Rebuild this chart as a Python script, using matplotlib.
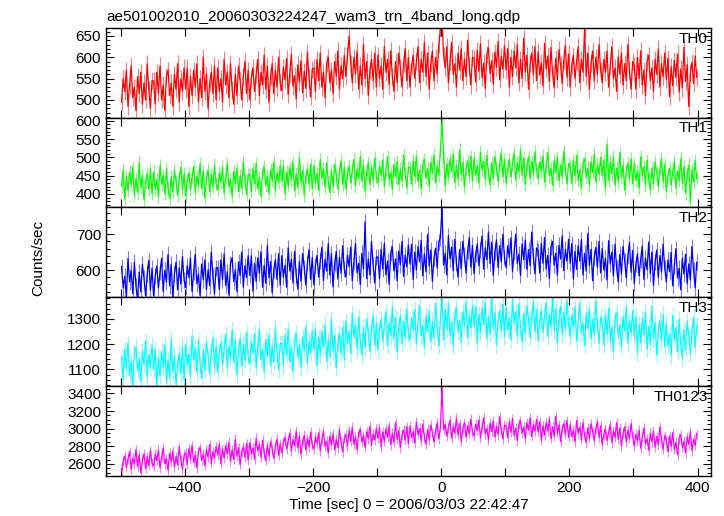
import numpy as np
import matplotlib.pyplot as plt
from matplotlib.ticker import MultipleLocator

plt.rcParams['font.family'] = ['Liberation Sans', 'DejaVu Sans']

# light curves, 2.5 s bins starting at -500 s
t_start = -500.0
t_bin = 2.5

th0 = [495, 550, 520, 570, 485, 535, 580, 505, 530, 475, 555, 515, 565, 490, 540, 500, 585, 525, 480, 545,
       545, 490, 565, 515, 580, 500, 535, 475, 555, 570, 510, 540, 485, 560, 525, 585, 495, 550, 520, 575,
       525, 575, 485, 555, 510, 570, 530, 585, 495, 550, 505, 600, 520, 560, 480, 540, 565, 515, 580, 500,
       575, 520, 550, 495, 595, 535, 565, 505, 585, 525, 490, 560, 510, 580, 545, 500, 555, 590, 515, 570,
       500, 550, 575, 520, 560, 595, 510, 565, 535, 605, 525, 580, 495, 555, 585, 515, 570, 530, 600, 540,
       522, 577, 547, 597, 512, 562, 607, 532, 557, 502, 582, 542, 592, 517, 567, 527, 612, 552, 507, 572,
       575, 520, 595, 545, 610, 530, 565, 505, 585, 600, 540, 570, 515, 590, 555, 615, 525, 580, 550, 605,
       555, 605, 650, 585, 540, 600, 560, 615, 525, 580, 535, 630, 550, 590, 510, 570, 595, 545, 610, 530,
       605, 550, 580, 525, 625, 565, 595, 535, 615, 555, 520, 590, 540, 610, 575, 530, 585, 620, 545, 600,
       530, 580, 605, 550, 590, 625, 540, 595, 565, 635, 555, 610, 525, 585, 615, 545, 600, 560, 630, 668,
       690, 605, 575, 625, 540, 590, 635, 560, 585, 530, 610, 570, 620, 545, 595, 555, 640, 580, 535, 600,
       597, 542, 617, 567, 632, 552, 587, 527, 607, 622, 562, 592, 537, 612, 577, 637, 547, 602, 572, 627,
       570, 620, 530, 600, 555, 615, 575, 630, 540, 595, 550, 645, 565, 605, 525, 585, 610, 560, 625, 545,
       613, 558, 588, 533, 633, 573, 603, 543, 623, 563, 528, 598, 548, 618, 583, 538, 593, 628, 553, 608,
       530, 580, 605, 550, 590, 625, 540, 595, 565, 668, 555, 610, 525, 585, 615, 545, 600, 560, 630, 570,
       540, 595, 565, 615, 530, 580, 625, 550, 575, 520, 600, 560, 610, 535, 585, 545, 630, 570, 525, 590,
       580, 525, 600, 550, 615, 535, 570, 510, 590, 605, 545, 575, 520, 595, 560, 620, 530, 585, 555, 610,
       548, 598, 508, 578, 533, 593, 553, 608, 518, 573, 528, 623, 543, 583, 485, 563, 588, 538, 603, 553]

th1 = [421, 464, 387, 447, 409, 460, 426, 473, 396, 443, 404, 485, 417, 451, 383, 434, 456, 413, 468, 400,
       460, 413, 439, 392, 477, 426, 451, 400, 468, 417, 387, 447, 404, 464, 434, 396, 443, 473, 409, 456,
       394, 436, 458, 411, 445, 475, 402, 449, 423, 483, 415, 462, 389, 441, 466, 406, 453, 419, 479, 428,
       411, 457, 432, 474, 402, 445, 483, 419, 440, 393, 462, 427, 470, 406, 449, 415, 487, 436, 398, 453,
       453, 406, 470, 427, 483, 414, 444, 393, 461, 474, 423, 449, 402, 466, 436, 487, 410, 457, 431, 478,
       434, 477, 400, 460, 422, 473, 439, 486, 409, 456, 417, 498, 430, 464, 396, 447, 469, 426, 481, 413,
       477, 430, 456, 409, 494, 443, 468, 417, 485, 434, 404, 464, 421, 481, 451, 413, 460, 490, 426, 473,
       413, 455, 477, 430, 464, 494, 421, 468, 442, 502, 434, 481, 408, 460, 485, 425, 472, 438, 498, 447,
       430, 476, 451, 493, 421, 464, 502, 438, 459, 412, 481, 446, 489, 425, 468, 434, 506, 455, 417, 472,
       473, 426, 490, 447, 503, 434, 464, 413, 481, 494, 443, 469, 422, 486, 456, 507, 430, 477, 451, 520,
       600, 499, 422, 482, 444, 495, 461, 508, 431, 478, 439, 520, 452, 486, 418, 469, 491, 448, 503, 435,
       498, 451, 477, 430, 515, 464, 489, 438, 506, 455, 425, 485, 442, 502, 472, 434, 481, 511, 447, 494,
       430, 472, 494, 447, 481, 511, 438, 485, 459, 519, 451, 498, 425, 477, 502, 442, 489, 455, 515, 464,
       441, 487, 462, 504, 432, 475, 513, 449, 470, 423, 492, 457, 500, 436, 479, 445, 517, 466, 428, 483,
       475, 428, 492, 449, 505, 436, 466, 415, 483, 496, 445, 471, 424, 488, 458, 509, 432, 479, 453, 500,
       449, 492, 415, 535, 437, 488, 454, 501, 424, 471, 432, 513, 445, 479, 411, 462, 484, 441, 496, 428,
       484, 437, 463, 416, 501, 450, 475, 424, 492, 441, 411, 471, 428, 488, 458, 420, 467, 497, 433, 480,
       407, 449, 471, 424, 458, 488, 415, 462, 436, 496, 428, 475, 402, 454, 479, 375, 466, 432, 492, 441]

th2 = [610, 550, 583, 522, 632, 567, 600, 534, 622, 555, 517, 594, 539, 616, 577, 528, 589, 627, 544, 605,
       528, 583, 611, 550, 595, 633, 540, 600, 567, 644, 556, 616, 523, 589, 622, 545, 606, 561, 638, 573,
       551, 612, 579, 634, 540, 595, 644, 562, 589, 529, 617, 573, 628, 546, 601, 556, 650, 584, 534, 606,
       607, 546, 628, 573, 645, 557, 595, 530, 618, 634, 568, 601, 540, 623, 585, 650, 552, 612, 579, 640,
       585, 640, 541, 618, 568, 634, 591, 651, 552, 613, 563, 668, 579, 624, 536, 601, 629, 574, 646, 558,
       640, 580, 613, 552, 662, 597, 630, 564, 652, 585, 547, 624, 569, 646, 607, 558, 619, 657, 574, 635,
       558, 613, 641, 580, 625, 663, 570, 630, 597, 674, 586, 646, 553, 619, 652, 575, 636, 591, 668, 603,
       581, 642, 609, 664, 570, 625, 674, 592, 619, 559, 647, 603, 735, 576, 631, 586, 680, 614, 564, 636,
       637, 576, 658, 603, 675, 587, 625, 560, 648, 664, 598, 631, 570, 653, 615, 680, 582, 642, 609, 670,
       617, 672, 573, 650, 600, 666, 623, 683, 584, 645, 595, 700, 611, 656, 568, 633, 661, 606, 678, 690,
       775, 614, 647, 586, 696, 631, 664, 598, 686, 619, 581, 658, 603, 680, 641, 592, 653, 691, 608, 669,
       590, 645, 673, 612, 657, 695, 602, 662, 629, 706, 618, 678, 585, 651, 684, 607, 668, 623, 700, 635,
       607, 668, 635, 690, 596, 651, 700, 618, 645, 585, 673, 629, 684, 602, 657, 612, 706, 640, 590, 662,
       653, 592, 674, 619, 691, 603, 641, 576, 664, 680, 614, 647, 586, 669, 631, 696, 598, 658, 625, 686,
       619, 674, 575, 652, 602, 668, 625, 685, 586, 647, 597, 702, 613, 658, 570, 635, 663, 608, 680, 592,
       660, 600, 633, 572, 682, 617, 650, 584, 672, 605, 567, 644, 589, 666, 627, 578, 639, 677, 594, 655,
       562, 617, 645, 584, 629, 667, 574, 634, 601, 678, 590, 650, 557, 623, 656, 579, 640, 595, 672, 607,
       567, 628, 595, 650, 556, 611, 660, 578, 605, 545, 633, 589, 644, 562, 617, 572, 666, 600, 550, 622]

th3 = [1149, 1061, 1181, 1101, 1205, 1077, 1133, 1037, 1165, 1189, 1093, 1141, 1053, 1173, 1117, 1213, 1069, 1157, 1109, 1197,
       1099, 1179, 1035, 1147, 1075, 1171, 1107, 1195, 1051, 1139, 1067, 1219, 1091, 1155, 1040, 1123, 1163, 1083, 1187, 1059,
       1201, 1113, 1161, 1073, 1233, 1137, 1185, 1089, 1217, 1121, 1065, 1177, 1097, 1209, 1153, 1081, 1169, 1225, 1105, 1193,
       1088, 1168, 1208, 1120, 1184, 1240, 1104, 1192, 1144, 1256, 1128, 1216, 1080, 1176, 1224, 1112, 1200, 1136, 1248, 1152,
       1122, 1210, 1162, 1242, 1106, 1186, 1258, 1138, 1178, 1090, 1218, 1154, 1234, 1114, 1194, 1130, 1266, 1170, 1098, 1202,
       1204, 1116, 1236, 1156, 1260, 1132, 1188, 1092, 1220, 1244, 1148, 1196, 1108, 1228, 1172, 1268, 1124, 1212, 1164, 1252,
       1179, 1259, 1115, 1227, 1155, 1251, 1187, 1275, 1131, 1219, 1147, 1299, 1171, 1235, 1107, 1203, 1243, 1163, 1267, 1139,
       1291, 1203, 1251, 1163, 1323, 1227, 1275, 1179, 1307, 1211, 1155, 1267, 1187, 1299, 1243, 1171, 1259, 1315, 1195, 1283,
       1178, 1258, 1298, 1210, 1274, 1330, 1194, 1282, 1234, 1346, 1218, 1306, 1170, 1266, 1314, 1202, 1290, 1226, 1338, 1242,
       1217, 1305, 1257, 1337, 1201, 1281, 1353, 1233, 1273, 1185, 1313, 1249, 1329, 1209, 1289, 1225, 1361, 1265, 1193, 1297,
       1386, 1216, 1336, 1256, 1360, 1232, 1288, 1192, 1320, 1344, 1248, 1296, 1208, 1328, 1272, 1368, 1224, 1312, 1264, 1352,
       1269, 1349, 1205, 1317, 1245, 1341, 1277, 1365, 1221, 1309, 1237, 1386, 1261, 1325, 1197, 1293, 1333, 1253, 1357, 1229,
       1344, 1256, 1304, 1216, 1376, 1280, 1328, 1232, 1360, 1264, 1208, 1320, 1240, 1352, 1296, 1224, 1312, 1368, 1248, 1336,
       1213, 1293, 1333, 1245, 1309, 1365, 1229, 1317, 1269, 1381, 1253, 1341, 1205, 1301, 1349, 1237, 1325, 1261, 1373, 1277,
       1227, 1315, 1267, 1347, 1211, 1291, 1363, 1243, 1283, 1195, 1323, 1259, 1339, 1219, 1299, 1235, 1371, 1275, 1203, 1307,
       1284, 1196, 1316, 1236, 1340, 1212, 1268, 1172, 1300, 1324, 1228, 1276, 1188, 1308, 1252, 1348, 1204, 1292, 1244, 1332,
       1229, 1309, 1165, 1277, 1205, 1301, 1237, 1325, 1181, 1269, 1197, 1349, 1221, 1285, 1157, 1253, 1293, 1213, 1317, 1189,
       1281, 1193, 1241, 1153, 1313, 1217, 1265, 1169, 1297, 1201, 1145, 1257, 1177, 1289, 1233, 1161, 1249, 1305, 1185, 1273]

th0123 = [2512, 2632, 2692, 2560, 2656, 2740, 2536, 2668, 2596, 2764, 2572, 2704, 2500, 2644, 2716, 2548, 2680, 2584, 2752, 2608,
          2578, 2710, 2638, 2758, 2554, 2674, 2782, 2602, 2662, 2530, 2722, 2626, 2746, 2566, 2686, 2590, 2794, 2650, 2542, 2698,
          2726, 2594, 2774, 2654, 2810, 2618, 2702, 2558, 2750, 2786, 2642, 2714, 2582, 2762, 2678, 2822, 2606, 2738, 2666, 2798,
          2701, 2821, 2605, 2773, 2665, 2809, 2713, 2845, 2629, 2761, 2653, 2881, 2689, 2785, 2593, 2737, 2797, 2677, 2833, 2641,
          2844, 2712, 2784, 2652, 2892, 2748, 2820, 2676, 2868, 2724, 2640, 2808, 2688, 2856, 2772, 2664, 2796, 2880, 2700, 2832,
          2722, 2842, 2902, 2770, 2866, 2950, 2746, 2878, 2806, 2974, 2782, 2914, 2710, 2854, 2926, 2758, 2890, 2794, 2962, 2818,
          2773, 2905, 2833, 2953, 2749, 2869, 2977, 2797, 2857, 2725, 2917, 2821, 2941, 2761, 2881, 2785, 2989, 2845, 2737, 2893,
          2931, 2799, 2979, 2859, 3015, 2823, 2907, 2763, 2955, 2991, 2847, 2919, 2787, 2967, 2883, 3027, 2811, 2943, 2871, 3003,
          2891, 3011, 2795, 2963, 2855, 2999, 2903, 3035, 2819, 2951, 2843, 3071, 2879, 2975, 2783, 2927, 2987, 2867, 3023, 2831,
          3029, 2897, 2969, 2837, 3077, 2933, 3005, 2861, 3053, 2909, 2825, 2993, 2873, 3041, 2957, 2849, 2981, 3065, 2885, 3017,
          3460, 2987, 3047, 2915, 3011, 3095, 2891, 3023, 2951, 3119, 2927, 3059, 2855, 2999, 3071, 2903, 3035, 2939, 3107, 2963,
          2918, 3050, 2978, 3098, 2894, 3014, 3122, 2942, 3002, 2870, 3062, 2966, 3086, 2906, 3026, 2930, 3134, 2990, 2882, 3038,
          3031, 2899, 3079, 2959, 3115, 2923, 3007, 2863, 3055, 3091, 2947, 3019, 2887, 3067, 2983, 3127, 2911, 3043, 2971, 3103,
          2961, 3081, 2865, 3033, 2925, 3069, 2973, 3105, 2889, 3021, 2913, 3141, 2949, 3045, 2853, 2997, 3057, 2937, 3093, 2901,
          3044, 2912, 2984, 2852, 3092, 2948, 3020, 2876, 3068, 2924, 2840, 3008, 2888, 3056, 2972, 2864, 2996, 3080, 2900, 3032,
          2817, 2937, 2997, 2865, 2961, 3045, 2841, 2973, 2901, 3069, 2877, 3009, 2805, 2949, 3021, 2853, 2985, 2889, 3057, 2913,
          2803, 2935, 2863, 2983, 2779, 2899, 3007, 2827, 2887, 2755, 2947, 2851, 2971, 2791, 2911, 2815, 3019, 2875, 2767, 2923,
          2871, 2739, 2919, 2799, 2955, 2763, 2847, 2703, 2895, 2931, 2787, 2859, 2727, 2907, 2823, 2967, 2751, 2883, 2811, 2943]

# typical 1-sigma error per band
errors = [20, 18, 22, 32, 55]
names = ['TH0', 'TH1', 'TH2', 'TH3', 'TH0123']
series = [th0, th1, th2, th3, th0123]

colors = ['#ff0000', '#00ff00', '#0000ff', '#00ffff', '#ff00ff']
light = ['#ff7a7a', '#7aff7a', '#7a7aff', '#8affff', '#ff7aff']
ylims = [(458, 668), (363, 608), (525, 775), (1033, 1386), (2464, 3478)]
majors = [50, 50, 100, 100, 200]
minors = [10, 10, 20, 20, 50]

fig = plt.figure(figsize=(7.24, 5.16), dpi=100)
left, right = 106 / 724, 711 / 724
top, bottom = 1 - 28.3 / 516, 1 - 476 / 516
h = (top - bottom) / 5

for i in range(5):
    ax = fig.add_axes([left, top - (i + 1) * h, right - left, h])
    y = np.array(series[i], dtype=float)
    t = t_start + t_bin * np.arange(len(y)) + t_bin / 2
    ax.errorbar(t, y, yerr=errors[i], fmt='none', ecolor=light[i],
                elinewidth=0.8, capsize=0)
    ax.plot(t, y, color=colors[i], lw=0.9)
    ax.set_xlim(-523, 421)
    ax.set_ylim(*ylims[i])
    ax.yaxis.set_major_locator(MultipleLocator(majors[i]))
    ax.yaxis.set_minor_locator(MultipleLocator(minors[i]))
    ax.xaxis.set_major_locator(MultipleLocator(200))
    ax.xaxis.set_minor_locator(MultipleLocator(100))
    ax.tick_params(which='both', direction='in', top=True, right=True,
                   labelsize=11, width=0.8)
    ax.tick_params(which='major', length=6)
    ax.tick_params(axis='x', which='minor', length=6)
    ax.tick_params(axis='y', which='minor', length=3)
    for s in ax.spines.values():
        s.set_linewidth(1.0)
    ax.text(0.995, 0.96, names[i], transform=ax.transAxes, ha='right',
            va='top', fontsize=11)
    if i < 4:
        ax.tick_params(labelbottom=False)
    else:
        ax.set_xlabel('Time [sec] 0 = 2006/03/03 22:42:47', fontsize=11,
                      labelpad=2)
    if i == 0:
        ax.set_title('ae501002010_20060303224247_wam3_trn_4band_long.qdp',
                     loc='left', fontsize=11, pad=5)

fig.text(38 / 724, 0.5, 'Counts/sec', rotation=90, ha='center',
         va='center', fontsize=11)

fig.savefig('out.png', dpi=100)
